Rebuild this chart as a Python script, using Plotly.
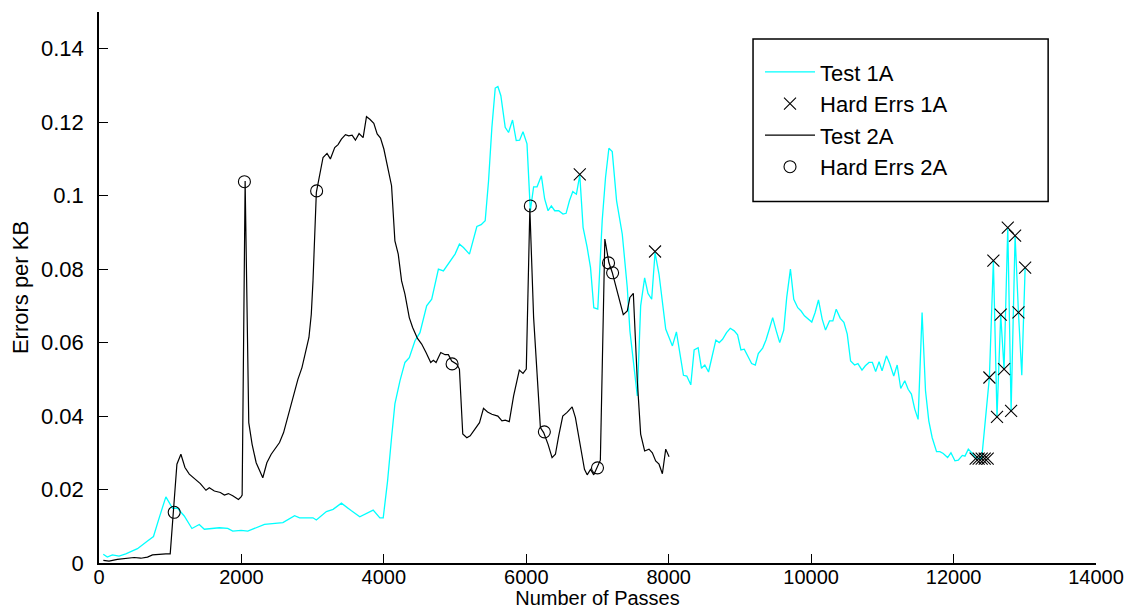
import plotly.graph_objects as go

# ---- Test 1A: error rate per pass ----
test1a_x = [60, 117, 188, 282, 376, 540, 681, 765, 845, 939, 1033, 1103, 1197, 1305, 1408, 1479,
            1690, 1808, 1878, 1995, 2089, 2230, 2324, 2582, 2747, 2817, 3005, 3052, 3193, 3287,
            3404, 3545, 3662, 3850, 3944, 3991, 4052, 4108, 4155, 4226, 4296, 4357, 4437, 4507,
            4601, 4672, 4766, 4836, 4930, 5000, 5061, 5118, 5202, 5306, 5366, 5423, 5470, 5517,
            5564, 5601, 5643, 5704, 5751, 5807, 5859, 5906, 5954, 6010, 6057, 6103, 6151, 6212,
            6258, 6306, 6352, 6399, 6455, 6516, 6559, 6606, 6653, 6704, 6751, 6798, 6855, 6902,
            6948, 7004, 7066, 7113, 7160, 7207, 7268, 7348, 7418, 7455, 7559, 7606, 7662, 7709,
            7761, 7808, 7864, 7911, 7958, 8005, 8052, 8108, 8160, 8207, 8254, 8310, 8357, 8413,
            8460, 8507, 8559, 8615, 8662, 8709, 8756, 8812, 8864, 8920, 8967, 9014, 9061, 9108,
            9164, 9216, 9258, 9319, 9366, 9413, 9460, 9507, 9559, 9615, 9657, 9709, 9756, 9812,
            9859, 9906, 9953, 10009, 10056, 10103, 10155, 10202, 10258, 10305, 10352, 10409,
            10460, 10507, 10554, 10610, 10657, 10714, 10761, 10813, 10860, 10906, 10954, 10996,
            11057, 11103, 11160, 11208, 11258, 11315, 11362, 11408, 11455, 11502, 11558, 11606,
            11652, 11700, 11761, 11808, 11855, 11916, 11963, 12019, 12066, 12123, 12160, 12207,
            12254, 12310, 12352, 12395, 12503, 12559, 12610, 12662, 12709, 12761, 12808, 12864,
            12911, 12958, 13005]
test1a_y = [0.0024, 0.0016, 0.0022, 0.0019, 0.0025, 0.0039, 0.0060, 0.0072, 0.0123, 0.0180, 0.0149,
            0.0149, 0.0128, 0.0094, 0.0105, 0.0092, 0.0096, 0.0094, 0.0087, 0.0089, 0.0087, 0.0098,
            0.0105, 0.0110, 0.0129, 0.0123, 0.0123, 0.0117, 0.0140, 0.0146, 0.0163, 0.0142, 0.0126,
            0.0144, 0.0123, 0.0123, 0.0223, 0.0341, 0.0433, 0.0496, 0.0546, 0.0559, 0.0605, 0.0627,
            0.0700, 0.0718, 0.0800, 0.0795, 0.0823, 0.0841, 0.0868, 0.0859, 0.0841, 0.0916, 0.0921,
            0.0932, 0.1040, 0.1186, 0.1293, 0.1297, 0.1272, 0.1186, 0.1172, 0.1206, 0.1150, 0.1151,
            0.1174, 0.1141, 0.0959, 0.1024, 0.1024, 0.1054, 0.0991, 0.0959, 0.0972, 0.0959, 0.0959,
            0.0950, 0.0952, 0.0986, 0.1011, 0.1004, 0.1056, 0.0913, 0.0859, 0.0804, 0.0695, 0.0691,
            0.0932, 0.1050, 0.1129, 0.1120, 0.0986, 0.0895, 0.0750, 0.0632, 0.0455, 0.0700, 0.0776,
            0.0734, 0.0718, 0.0845, 0.0786, 0.0705, 0.0637, 0.0614, 0.0591, 0.0629, 0.0568, 0.0511,
            0.0509, 0.0485, 0.0580, 0.0586, 0.0530, 0.0539, 0.0520, 0.0564, 0.0607, 0.0600, 0.0609,
            0.0627, 0.0639, 0.0632, 0.0621, 0.0580, 0.0582, 0.0564, 0.0543, 0.0539, 0.0570, 0.0585,
            0.0607, 0.0637, 0.0668, 0.0634, 0.0600, 0.0634, 0.0723, 0.0800, 0.0718, 0.0695, 0.0686,
            0.0673, 0.0664, 0.0656, 0.0682, 0.0716, 0.0664, 0.0634, 0.0659, 0.0659, 0.0691, 0.0666,
            0.0655, 0.0623, 0.0550, 0.0539, 0.0543, 0.0525, 0.0537, 0.0546, 0.0546, 0.0521, 0.0548,
            0.0523, 0.0564, 0.0543, 0.0509, 0.0539, 0.0475, 0.0496, 0.0473, 0.0460, 0.0419, 0.0391,
            0.0682, 0.0469, 0.0387, 0.0341, 0.0303, 0.0303, 0.0298, 0.0287, 0.0300, 0.0278, 0.0280,
            0.0293, 0.0291, 0.0310, 0.0300, 0.0287, 0.0285, 0.0284, 0.0505, 0.0823, 0.0398, 0.0676,
            0.0528, 0.0913, 0.0414, 0.0891, 0.0682, 0.0511, 0.0804]

# ---- Hard errors seen during Test 1A ----
hard1a_x = [6751, 7808, 12310, 12352, 12395, 12437, 12479, 12503, 12559, 12610, 12662, 12709,
            12761, 12808, 12864, 12911, 13005]
hard1a_y = [0.1058, 0.0848, 0.0284, 0.0284, 0.0284, 0.0284, 0.0284, 0.0505, 0.0823, 0.0398,
            0.0676, 0.0528, 0.0913, 0.0414, 0.0891, 0.0682, 0.0804]

# ---- Test 2A: error rate per pass ----
test2a_x = [61, 141, 258, 399, 493, 587, 681, 751, 845, 939, 1000, 1094, 1150, 1207, 1268, 1338,
            1423, 1502, 1549, 1620, 1704, 1761, 1817, 1878, 1958, 1995, 2010, 2052, 2103, 2150,
            2207, 2300, 2357, 2418, 2465, 2535, 2592, 2653, 2700, 2747, 2793, 2850, 2902, 2948,
            2981, 3005, 3052, 3099, 3146, 3202, 3249, 3310, 3357, 3404, 3461, 3507, 3554, 3601,
            3652, 3709, 3756, 3803, 3859, 3906, 3953, 4000, 4047, 4108, 4155, 4202, 4249, 4296,
            4357, 4404, 4470, 4531, 4592, 4658, 4695, 4733, 4799, 4860, 4906, 4953, 5024, 5061,
            5108, 5165, 5212, 5282, 5343, 5399, 5456, 5517, 5601, 5658, 5704, 5761, 5822, 5902,
            5954, 6000, 6050, 6103, 6151, 6198, 6244, 6306, 6362, 6409, 6455, 6512, 6573, 6644,
            6690, 6737, 6785, 6817, 6855, 6902, 6948, 6995, 7040, 7103, 7160, 7207, 7301, 7362,
            7418, 7455, 7503, 7559, 7606, 7662, 7723, 7770, 7817, 7864, 7911, 7958, 8005]
test2a_y = [0.0007, 0.0005, 0.0010, 0.0012, 0.0015, 0.0013, 0.0016, 0.0022, 0.0024, 0.0025, 0.0025,
            0.0269, 0.0296, 0.0260, 0.0242, 0.0231, 0.0216, 0.0198, 0.0205, 0.0196, 0.0192, 0.0185,
            0.0189, 0.0183, 0.0173, 0.0180, 0.0185, 0.1040, 0.0382, 0.0323, 0.0273, 0.0232, 0.0273,
            0.0296, 0.0310, 0.0328, 0.0355, 0.0400, 0.0437, 0.0464, 0.0500, 0.0532, 0.0573, 0.0614,
            0.0677, 0.0768, 0.1009, 0.1059, 0.1104, 0.1115, 0.1100, 0.1131, 0.1139, 0.1154, 0.1166,
            0.1163, 0.1165, 0.1151, 0.1169, 0.1158, 0.1215, 0.1208, 0.1197, 0.1168, 0.1157, 0.1127,
            0.1086, 0.1027, 0.0877, 0.0841, 0.0768, 0.0732, 0.0668, 0.0641, 0.0612, 0.0596, 0.0573,
            0.0546, 0.0552, 0.0546, 0.0573, 0.0567, 0.0567, 0.0550, 0.0541, 0.0528, 0.0351, 0.0341,
            0.0346, 0.0364, 0.0382, 0.0421, 0.0411, 0.0405, 0.0400, 0.0387, 0.0389, 0.0385, 0.0455,
            0.0525, 0.0516, 0.0528, 0.0965, 0.0668, 0.0532, 0.0369, 0.0355, 0.0323, 0.0287, 0.0296,
            0.0346, 0.0400, 0.0410, 0.0425, 0.0396, 0.0341, 0.0282, 0.0255, 0.0240, 0.0255, 0.0240,
            0.0260, 0.0280, 0.0882, 0.0818, 0.0791, 0.0723, 0.0676, 0.0686, 0.0723, 0.0734, 0.0496,
            0.0351, 0.0305, 0.0310, 0.0300, 0.0278, 0.0269, 0.0243, 0.0310, 0.0289]

# ---- Hard errors seen during Test 2A ----
hard2a_x = [1056, 2042, 3056, 4958, 6057, 6254, 7000, 7155, 7212]
hard2a_y = [0.0138, 0.1038, 0.1013, 0.0542, 0.0972, 0.0357, 0.0259, 0.0817, 0.0790]

# ---- axis ticks ----
x_ticks = [0, 2000, 4000, 6000, 8000, 10000, 12000, 14000]
x_tick_labels = ["0", "2000", "4000", "6000", "8000", "10000", "12000", "14000"]
y_ticks = [0, 0.02, 0.04, 0.06, 0.08, 0.10, 0.12, 0.14]
y_tick_labels = ["0", "0.02", "0.04", "0.06", "0.08", "0.1", "0.12", "0.14"]

FONT = "Liberation Sans, Arial, Helvetica, sans-serif"
FS = 22
FS_X = 20

fig = go.Figure()
fig.add_trace(go.Scatter(
    x=test1a_x, y=test1a_y, mode="lines", name="Test 1A", legendgroup="t1",
    line=dict(color="#00FFFF", width=1.3)))
fig.add_trace(go.Scatter(
    x=hard1a_x, y=hard1a_y, mode="markers", name="Hard Errs 1A", legendgroup="h1",
    marker=dict(symbol="x-thin-open", size=12, color="black",
                line=dict(color="black", width=1.1))))
fig.add_trace(go.Scatter(
    x=test2a_x, y=test2a_y, mode="lines", name="Test 2A", legendgroup="t2",
    line=dict(color="black", width=1.2)))
fig.add_trace(go.Scatter(
    x=hard2a_x, y=hard2a_y, mode="markers", name="Hard Errs 2A", legendgroup="h2",
    marker=dict(symbol="circle-open", size=12, color="black",
                line=dict(color="black", width=1.1))))

axis_common = dict(
    showline=True, linecolor="black", linewidth=1.5,
    ticks="inside", ticklen=9, tickwidth=1, tickcolor="black",
    showgrid=False, zeroline=False, automargin=False,
)

fig.update_layout(
    template="none",
    width=1136, height=609,
    margin=dict(l=99, r=40, t=12, b=46, pad=0),
    paper_bgcolor="white", plot_bgcolor="white",
    font=dict(family=FONT, size=FS, color="black"),
    xaxis=dict(range=[0, 14000], tickmode="array", tickvals=x_ticks, ticktext=x_tick_labels,
               tickfont=dict(family=FONT, size=FS_X, color="black"),
               title=dict(text="Number of Passes", font=dict(family=FONT, size=FS_X), standoff=0),
               ticklabelstandoff=-5, **axis_common),
    yaxis=dict(range=[0, 0.15], tickmode="array", tickvals=y_ticks, ticktext=y_tick_labels,
               tickfont=dict(family=FONT, size=FS, color="black"),
               title=dict(text="Errors per KB", font=dict(family=FONT, size=FS), standoff=6),
               ticklabelstandoff=9, **axis_common),
    legend=dict(x=0.663, y=0.929, xanchor="left", yanchor="top",
                bgcolor="rgba(0,0,0,0)", borderwidth=0,
                font=dict(family=FONT, size=FS, color="black"),
                itemwidth=50, tracegroupgap=1, traceorder="normal"),
    showlegend=True,
    shapes=[dict(type="rect", xref="paper", yref="paper",
                 x0=0.656, x1=0.952, y0=0.656, y1=0.951,
                 line=dict(color="black", width=1.5), fillcolor="rgba(0,0,0,0)",
                 layer="above")],
)

fig.write_html("out.html")
